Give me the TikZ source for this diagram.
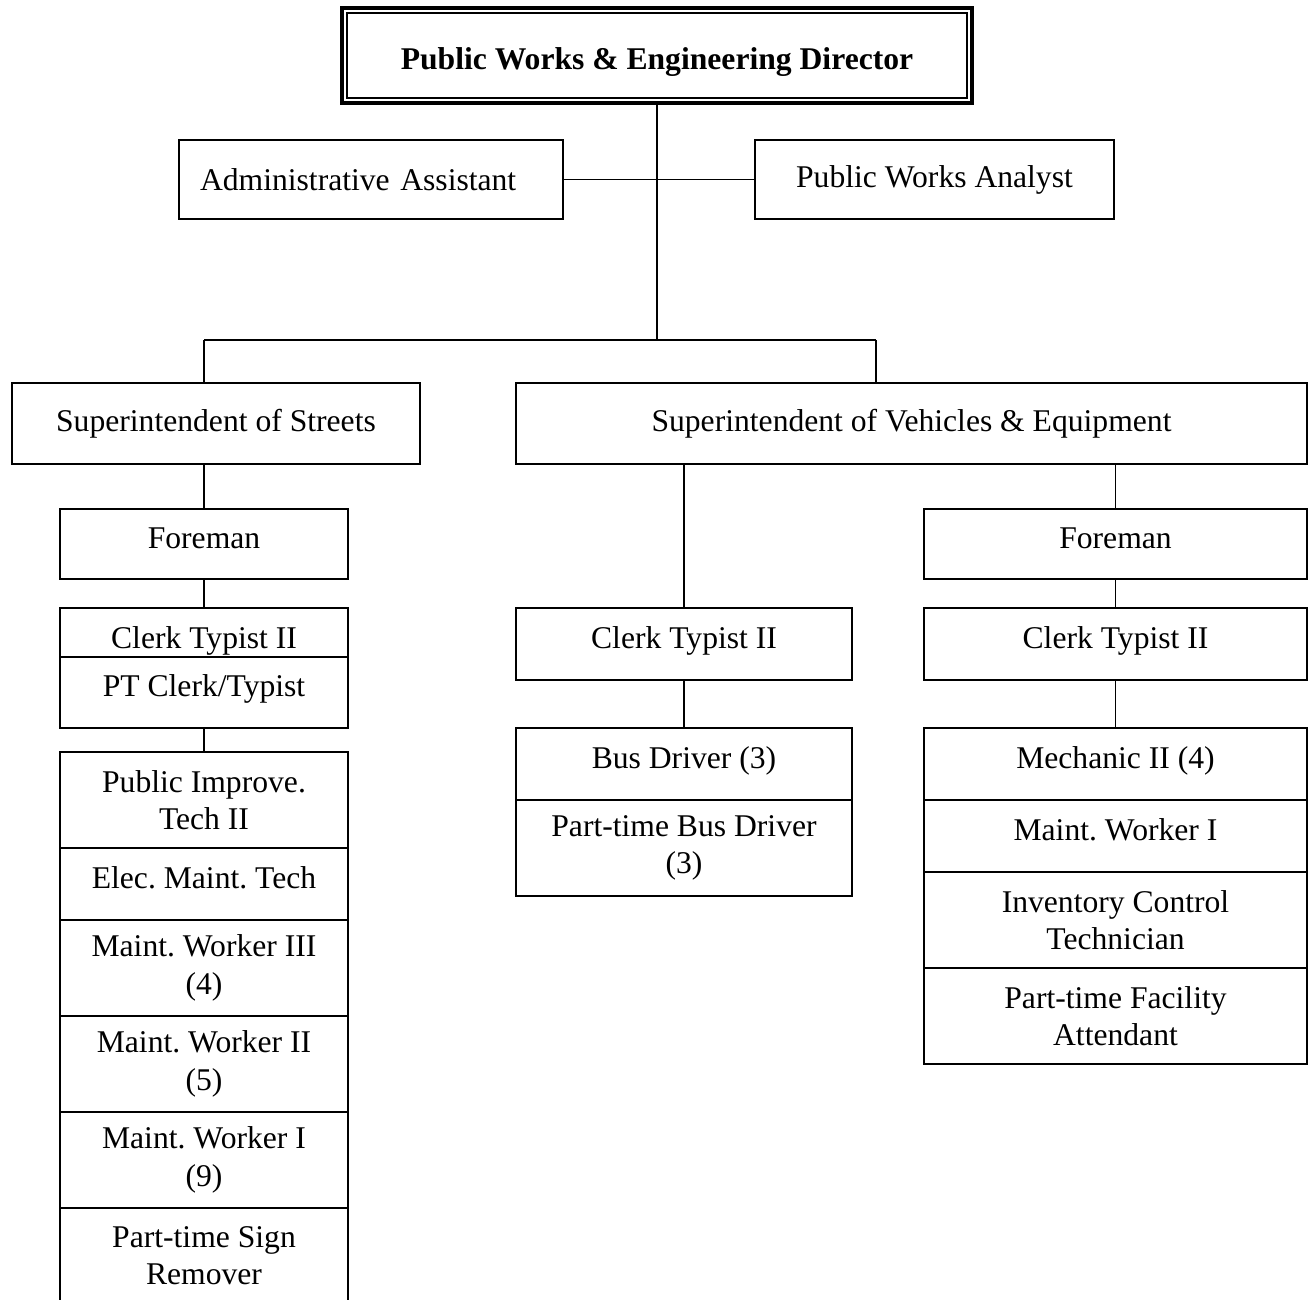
\documentclass[tikz,border=0pt]{standalone}
\usepackage{fontspec}
\setmainfont{Liberation Serif}
\usepackage{tikz}
\usetikzlibrary{positioning,calc}
\frenchspacing

\begin{document}
\begin{tikzpicture}[
  x=0.02cm,y=-0.02cm,
  box/.style={rectangle,draw,line width=1pt,outer sep=0pt,inner sep=0pt,
              font=\fontsize{18}{21.3}\selectfont,align=center},
  one/.style={text height=12pt,text depth=7pt},
  lowone/.style={text height=20pt,text depth=2pt},
  dirbox/.style={box,line width=2.4pt,font=\fontsize{18}{21.3}\selectfont\bfseries,
                 minimum width=12.6cm,minimum height=1.9cm,text height=16pt,text depth=0pt},
  leftcol/.style={box,minimum width=5.76cm},
  midcol/.style={box,minimum width=6.72cm},
  rightcol/.style={box,minimum width=7.66cm},
  link/.style={line width=1pt}
]
\useasboundingbox (0,0) rectangle (1309,1300);

%% Director and staff
\node[dirbox] (dir) at (657,55.5) {Public Works \& Engineering Director};
\draw[line width=0.8pt] ([shift={(5,5)}]dir.north west) rectangle ([shift={(-5,-5)}]dir.south east);
\node[box,anchor=north,minimum width=7.68cm,minimum height=1.58cm,
      text width=6.84cm,align=left,inner xsep=0.42cm] (adm) at (371,140) {Administrative Assistant};
\node[box,anchor=north,minimum width=7.18cm,minimum height=1.58cm] (pwa) at (934.5,140) {Public Works Analyst};

%% Superintendents
\node[box,anchor=north,minimum width=8.16cm,minimum height=1.62cm] (sst) at (216,383) {Superintendent of Streets};
\node[box,anchor=north,minimum width=15.82cm,minimum height=1.62cm] (sve) at (911.5,383) {Superintendent of Vehicles \& Equipment};
\coordinate (hub) at (657,340);
\coordinate (jl) at (204,340);
\coordinate (jr) at (876,340);

%% Streets side
\node[leftcol,one,anchor=north,minimum height=1.40cm] (fml) at (204,509) {Foreman};
\node[leftcol,lowone,anchor=north,minimum height=0.98cm] (ctl) at (204,608) {Clerk Typist II};
\node[leftcol,one,minimum height=1.42cm,below=0pt of ctl] (ptl) {PT Clerk/Typist};
\node[leftcol,anchor=north,minimum height=1.92cm] (pit) at (204,752) {Public Improve.\\Tech II};
\node[leftcol,one,minimum height=1.44cm,below=0pt of pit] (emt) {Elec. Maint. Tech};
\node[leftcol,minimum height=1.92cm,below=0pt of emt] (mw3) {Maint. Worker III\\(4)};
\node[leftcol,minimum height=1.92cm,below=0pt of mw3] (mw2) {Maint. Worker II\\(5)};
\node[leftcol,minimum height=1.92cm,below=0pt of mw2] (mw1) {Maint. Worker I\\(9)};
\node[leftcol,minimum height=1.92cm,below=0pt of mw1] (psr) {Part-time Sign\\Remover};

%% Vehicles side, buses
\node[midcol,one,anchor=north,minimum height=1.44cm] (ctm) at (684,608) {Clerk Typist II};
\node[midcol,one,anchor=north,minimum height=1.44cm] (bus) at (684,728) {Bus Driver (3)};
\node[midcol,minimum height=1.92cm,below=0pt of bus] (pbd) {Part-time Bus Driver\\(3)};

%% Vehicles side, shop
\node[rightcol,one,anchor=north,minimum height=1.40cm] (fmr) at (1115.5,509) {Foreman};
\node[rightcol,one,anchor=north,minimum height=1.44cm] (ctr) at (1115.5,608) {Clerk Typist II};
\node[rightcol,one,anchor=north,minimum height=1.44cm] (mec) at (1115.5,728) {Mechanic II (4)};
\node[rightcol,one,minimum height=1.44cm,below=0pt of mec] (mwr) {Maint. Worker I};
\node[rightcol,minimum height=1.92cm,below=0pt of mwr] (ict) {Inventory Control\\Technician};
\node[rightcol,minimum height=1.92cm,below=0pt of ict] (pfa) {Part-time Facility\\Attendant};

%% Lines
\draw[link] (dir.south) -- (hub);
\draw[link] (adm.east) -- (pwa.west);
\draw[link] (jl) -- (jr);
\draw[link] (jl) -- (jl |- sst.north);
\draw[link] (jr) -- (jr |- sve.north);
\draw[link] (fml.north) -- (fml.north |- sst.south);
\draw[link] (fml) -- (ctl);
\draw[link] (ptl) -- (pit);
\draw[link] (ctm.north) -- (ctm.north |- sve.south);
\draw[link] (ctm) -- (bus);
\draw[link] (fmr.north) -- (fmr.north |- sve.south);
\draw[link] (fmr) -- (ctr);
\draw[link] (ctr) -- (mec);

\end{tikzpicture}
\end{document}
